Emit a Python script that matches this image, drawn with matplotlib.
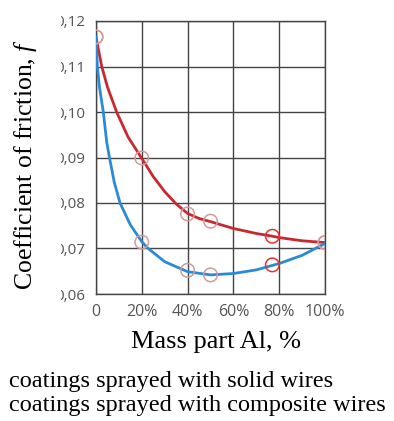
import matplotlib.pyplot as plt
from matplotlib.transforms import Bbox, TransformedBbox

# points (mass part Al in %, coefficient of friction)
solid_x = [0, 2.5, 5, 9, 14, 20, 25, 30, 35, 40, 45, 50, 60, 70, 77, 80, 90, 100]
solid_y = [0.1165, 0.110, 0.1055, 0.100, 0.0945, 0.0898, 0.0858, 0.0825, 0.0798, 0.0777,
           0.0766, 0.0759, 0.0744, 0.0733, 0.0727, 0.0724, 0.0717, 0.0713]

composite_x = [0, 0.6, 1.5, 3.2, 4.7, 5.8, 8, 10.5, 15, 20, 22.8, 30, 40, 50, 60, 70, 80, 90, 100]
composite_y = [0.1165, 0.110, 0.1055, 0.100, 0.0933, 0.0902, 0.0845, 0.080, 0.0752, 0.0715,
               0.070, 0.0671, 0.0649, 0.0642, 0.0645, 0.0653, 0.0667, 0.0685, 0.0711]

# measured points (circles)
marker_x = [0, 20, 40, 50, 77, 100]
solid_marks = [0.1165, 0.0899, 0.0776, 0.0760, 0.0727, 0.0713]
composite_marks = [0.1165, 0.0714, 0.0652, 0.0642, 0.0664, 0.0713]

x_ticks = [0, 20, 40, 60, 80, 100]
x_ticklabels = ["0", "20%", "40%", "60%", "80%", "100%"]
y_ticks = [0.06, 0.07, 0.08, 0.09, 0.10, 0.11, 0.12]
y_ticklabels = ["0,06", "0,07", "0,08", "0,09", "0,10", "0,11", "0,12"]

plt.rcParams["mathtext.fontset"] = "custom"
plt.rcParams["mathtext.rm"] = "Liberation Serif"
plt.rcParams["mathtext.it"] = "Liberation Serif:italic"

fig = plt.figure(figsize=(3.94, 4.21), dpi=100)
ax = fig.add_axes([96 / 394, 1 - 294 / 421, 229 / 394, 273 / 421])

ax.plot(solid_x, solid_y, color="#c82830", lw=2.0, zorder=3)
ax.plot(composite_x, composite_y, color="#2b8ad6", lw=2.0, zorder=3)

mark_colors = ["#d49a9a", "#d49a9a", "#d49a9a", "#d49a9a", "#e03535", "#d49a9a"]
ax.scatter(marker_x, solid_marks, s=95, facecolors="none", edgecolors=mark_colors, linewidths=1.1, zorder=4)
ax.scatter(marker_x, composite_marks, s=95, facecolors="none", edgecolors=mark_colors, linewidths=1.1, zorder=4)

ax.set_xlim(0, 100)
ax.set_ylim(0.06, 0.12)
ax.set_xticks(x_ticks)
ax.set_xticklabels(x_ticklabels)
ax.set_yticks(y_ticks)
ax.set_yticklabels(y_ticklabels)
ax.grid(True, color="#444444", lw=1.0)
ax.set_axisbelow(True)
for sp in ax.spines.values():
    sp.set_color("#444444")
    sp.set_linewidth(1.0)
ax.tick_params(axis="y", length=0, pad=8, labelsize=11, labelcolor="#555555")
ax.tick_params(axis="x", length=0, pad=7, labelsize=11.5, labelcolor="#555555")
for lab in ax.get_xticklabels() + ax.get_yticklabels():
    lab.set_fontfamily("Open Sans")

# the leading zero of the y labels is cut off in the original
clip = TransformedBbox(Bbox([[61 / 394, 0], [1, 1]]), fig.transFigure)
for lab in ax.get_yticklabels():
    lab.set_clip_box(clip)
    lab.set_clip_on(True)

fig.text(26 / 394, 1 - 165 / 421, r"Coefficient of friction, $\it{f}$", rotation=90,
         ha="center", va="center", fontsize=18.5, family="Liberation Serif")
fig.text(216 / 394, 1 - 342 / 421, "Mass part Al, %", ha="center", va="center",
         fontsize=19, family="Liberation Serif")
fig.text(9 / 394, 1 - 381 / 421, "coatings sprayed with solid wires", ha="left", va="center",
         fontsize=17.5, family="Liberation Serif")
fig.text(9 / 394, 1 - 405 / 421, "coatings sprayed with composite wires", ha="left", va="center",
         fontsize=17.5, family="Liberation Serif")

fig.savefig("out.png", dpi=100)
